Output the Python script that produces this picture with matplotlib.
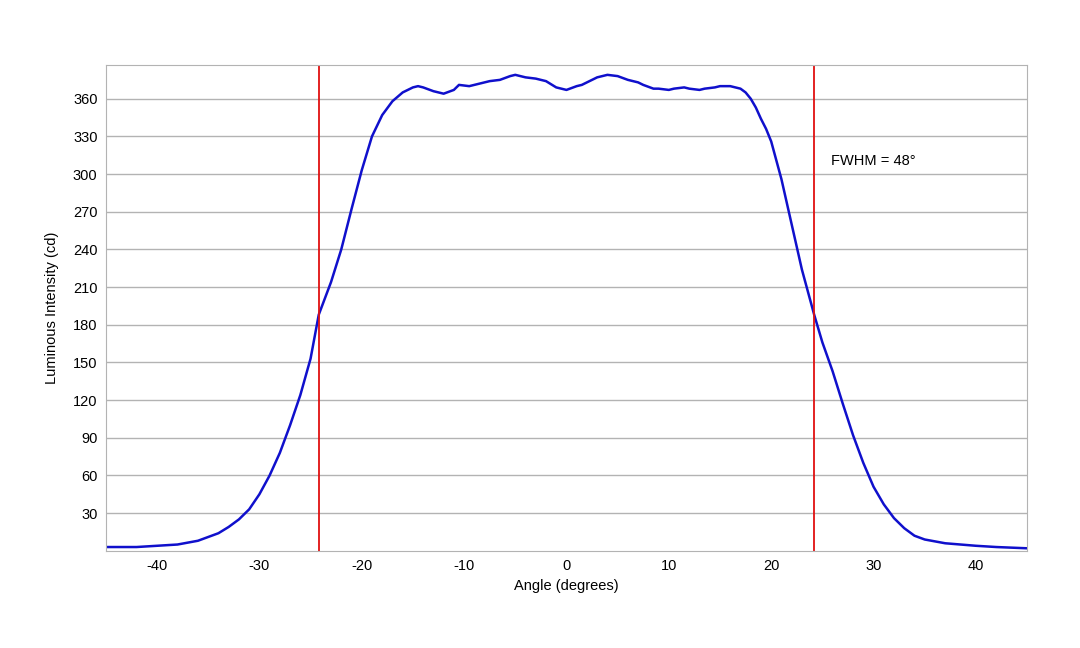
import matplotlib.pyplot as plt

plt.rcParams['font.family'] = ['Liberation Sans', 'DejaVu Sans']
plt.rcParams['axes.unicode_minus'] = False

angle = [-45, -42, -40, -38, -36, -34, -33, -32, -31, -30, -29, -28, -27, -26, -25, -24.2, -23, -22, -21,
         -20, -19, -18, -17, -16, -15, -14.5, -14, -13, -12, -11, -10.5, -9.5, -9, -8, -7.5, -6.5, -5.5, -5,
         -4, -3, -2, -1, 0, 1, 1.5, 2.5, 3, 4, 5, 6, 7, 7.5, 8.5, 9, 10, 10.5, 11.5, 12, 13, 13.5, 14.5, 15,
         16, 16.5, 17, 17.5, 18, 18.5, 19, 19.5, 20, 21, 22, 23, 24.2, 25, 26, 27, 28, 29, 30, 31, 32, 33, 34, 35, 37,
         40, 42, 45]
intensity = [3, 3, 4, 5, 8, 14, 19, 25, 33, 45, 60, 78, 100, 124, 153, 188, 214, 240, 272,
             303, 330, 347, 358, 365, 369, 370, 369, 366, 364, 367, 371, 370, 371, 373, 374, 375, 378, 379,
             377, 376, 374, 369, 367, 370, 371, 375, 377, 379, 378, 375, 373, 371, 368, 368, 367, 368, 369, 368, 367, 368, 369, 370,
             370, 369, 368, 365, 360, 353, 344, 336, 326, 296, 260, 224, 188, 166, 143, 117, 92, 70, 51, 37, 26, 18, 12, 9, 6,
             4, 3, 2]

fwhm_left = -24.2
fwhm_right = 24.2

fig, ax = plt.subplots(figsize=(10.8, 6.48), dpi=100)
fig.subplots_adjust(left=0.098, right=0.951, top=0.9, bottom=0.15)

ax.plot(angle, intensity, color='#1010cc', lw=1.8)
ax.axvline(fwhm_left, color='#e01010', lw=1.3)
ax.axvline(fwhm_right, color='#e01010', lw=1.3)
ax.text(25.8, 310, 'FWHM = 48°', fontsize=10.5, va='center')

ax.set_xlim(-45, 45)
ax.set_ylim(0, 387)
ax.set_xticks(range(-40, 41, 10))
ax.set_yticks(range(30, 361, 30))
ax.yaxis.grid(True, color='#b3b3b3', lw=1)
ax.set_axisbelow(True)
ax.tick_params(length=0, labelsize=10.5, pad=6)
for s in ax.spines.values():
    s.set_color('#b3b3b3')
ax.set_xlabel('Angle (degrees)', fontsize=10.5)
ax.set_ylabel('Luminous Intensity (cd)', fontsize=10.5, labelpad=10)

fig.savefig('out.png')
